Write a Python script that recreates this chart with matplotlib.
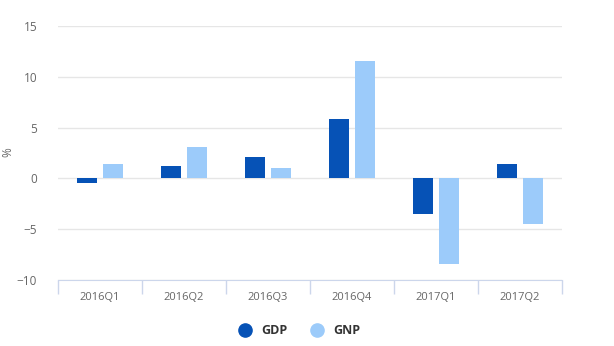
import numpy as np
import matplotlib.pyplot as plt
from matplotlib.lines import Line2D

plt.rcParams['font.family'] = ['Open Sans', 'DejaVu Sans']

# Quarterly growth, %
quarters = ['2016Q1', '2016Q2', '2016Q3', '2016Q4', '2017Q1', '2017Q2']
gdp = [-0.45, 1.2, 2.1, 5.8, -3.5, 1.4]
gnp = [1.4, 3.05, 1.0, 11.55, -8.4, -4.5]

c_gdp = '#0652b6'
c_gnp = '#9ccbfa'

fig = plt.figure(figsize=(6.14, 3.46), dpi=100)
ax = fig.add_axes([0.0945, 0.191, 0.8205, 0.734])

x = np.arange(len(quarters))
w = 0.24
ax.bar(x - 0.152, gdp, w, color=c_gdp, zorder=3)
ax.bar(x + 0.152, gnp, w, color=c_gnp, zorder=3)

ax.set_xlim(-0.5, len(quarters) - 0.5)
ax.set_ylim(-10, 15)
ax.set_yticks([-10, -5, 0, 5, 10, 15])
ax.yaxis.grid(True, color='#e6e6e6', linewidth=1, zorder=0)

for s in ['top', 'right', 'left']:
    ax.spines[s].set_visible(False)
ax.spines['bottom'].set_color('#ccd6eb')

# category labels centred, ticks on the boundaries
ax.set_xticks(x)
ax.set_xticklabels(quarters)
ax.set_xticks(np.arange(-0.5, len(quarters)), minor=True)
ax.tick_params(axis='x', which='major', length=0, pad=9, labelsize=8, labelcolor='#666666')
ax.tick_params(axis='x', which='minor', length=10, color='#ccd6eb', width=1)
ax.tick_params(axis='y', length=0, pad=15, labelsize=8.5, labelcolor='#666666')

fig.text(0.003, 0.56, '%', rotation=90, color='#666666', fontsize=8.5,
         ha='left', va='center')

handles = [Line2D([], [], marker='o', linestyle='', markersize=9.5, color=c_gdp),
           Line2D([], [], marker='o', linestyle='', markersize=9.5, color=c_gnp)]
leg = fig.legend(handles, ['GDP', 'GNP'], loc='center', bbox_to_anchor=(0.483, 0.045),
                 ncol=2, frameon=False, handletextpad=0.3, columnspacing=1.3,
                 prop={'weight': 'bold', 'size': 9})
for t in leg.get_texts():
    t.set_color('#333333')

fig.savefig('out.png', dpi=100)
